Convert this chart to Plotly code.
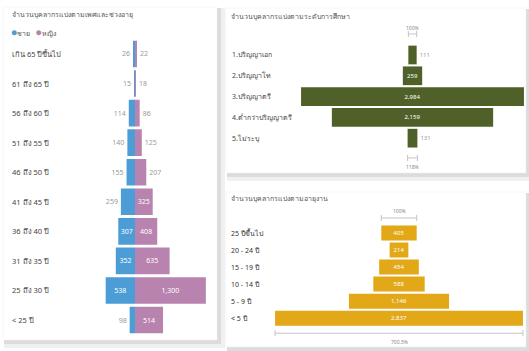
import plotly.graph_objects as go

W, H = 529, 351

# ---------------- data ----------------
age_groups = ["เกิน 65 ปีขึ้นไป", "61 ถึง 65 ปี", "56 ถึง 60 ปี", "51 ถึง 55 ปี", "46 ถึง 50 ปี",
              "41 ถึง 45 ปี", "36 ถึง 40 ปี", "31 ถึง 35 ปี", "25 ถึง 30 ปี", "< 25 ปี"]
male = [26, 15, 114, 140, 155, 259, 307, 352, 538, 98]
female = [22, 18, 86, 125, 207, 325, 408, 635, 1300, 514]

edu_levels = ["1.ปริญญาเอก", "2.ปริญญาโท", "3.ปริญญาตรี", "4.ต่ำกว่าปริญญาตรี", "5.ไม่ระบุ"]
edu_counts = [111, 259, 2984, 2159, 131]

tenure_groups = ["25 ปีขึ้นไป", "20 - 24 ปี", "15 - 19 ปี", "10 - 14 ปี", "5 - 9 ปี", "< 5 ปี"]
tenure_counts = [405, 214, 454, 588, 1146, 2837]

title_left = "จำนวนบุคลากรแบ่งตามเพศและช่วงอายุ"
title_edu = "จำนวนบุคลากรแบ่งตามระดับการศึกษา"
title_tenure = "จำนวนบุคลากรแบ่งตามอายุงาน"
legend_names = ["ชาย", "หญิง"]

# ---------------- style ----------------
FONT = "Noto Sans, Lato, sans-serif"
C_MALE = "#4C9DD6"
C_FEMALE = "#B883AE"
C_EDU = "#4F6128"
C_TEN = "#E2A817"
C_TXT = "#555555"
C_OUT = "#9a9a9a"


def fx(p):
    return p / W


def fy(p):
    return 1 - p / H


fig = go.Figure()


def tpos(vals, thr):
    return ["inside" if v >= thr else "outside" for v in vals]


common = dict(orientation="h", insidetextanchor="middle", textangle=0, constraintext="none",
              cliponaxis=False, showlegend=False, hoverinfo="skip")

# ---------- left: population pyramid ----------
fig.add_trace(go.Bar(
    y=age_groups, x=[-v for v in male], width=0.9,
    marker=dict(color=C_MALE, line=dict(width=0)),
    text=[f"{v:,}" for v in male], textposition=tpos(male, 300),
    insidetextfont=dict(color="white", size=7, family=FONT),
    outsidetextfont=dict(color=C_OUT, size=7, family=FONT),
    xaxis="x", yaxis="y", **common))
fig.add_trace(go.Bar(
    y=age_groups, x=female, width=0.9,
    marker=dict(color=C_FEMALE, line=dict(width=0)),
    text=[f"{v:,}" for v in female], textposition=tpos(female, 300),
    insidetextfont=dict(color="white", size=7, family=FONT),
    outsidetextfont=dict(color=C_OUT, size=7, family=FONT),
    xaxis="x", yaxis="y", **common))

# ---------- top right: education funnel ----------
fig.add_trace(go.Bar(
    y=list(range(len(edu_levels))), x=edu_counts, base=[-v / 2 for v in edu_counts],
    width=0.9, marker=dict(color=C_EDU, line=dict(width=0)),
    text=[f"{v:,}" for v in edu_counts], textposition=tpos(edu_counts, 200),
    insidetextfont=dict(color="white", size=6, family=FONT),
    outsidetextfont=dict(color=C_OUT, size=6, family=FONT),
    xaxis="x2", yaxis="y2", **common))

# ---------- bottom right: tenure funnel ----------
fig.add_trace(go.Bar(
    y=list(range(len(tenure_groups))), x=tenure_counts, base=[-v / 2 for v in tenure_counts],
    width=0.88, marker=dict(color=C_TEN, line=dict(width=0)),
    text=[f"{v:,}" for v in tenure_counts], textposition=tpos(tenure_counts, 200),
    insidetextfont=dict(color="white", size=6, family=FONT),
    outsidetextfont=dict(color=C_OUT, size=6, family=FONT),
    xaxis="x3", yaxis="y3", **common))

hidden = dict(showgrid=False, zeroline=False, showticklabels=False, ticks="", showline=False, fixedrange=True)

fig.update_layout(
    xaxis=dict(domain=[fx(60), fx(210)], range=[-1376, 1376], **hidden),
    yaxis=dict(domain=[fy(334.8), fy(39.2)], range=[9.5, -0.5], type="category",
               categoryorder="array", categoryarray=age_groups, **hidden),
    xaxis2=dict(domain=[fx(300), fx(525)], range=[-1506, 1506], anchor="y2", **hidden),
    yaxis2=dict(domain=[fy(170), fy(24)], range=[5.53, -1.49], anchor="x2", **hidden),
    xaxis3=dict(domain=[fx(273), fx(525)], range=[-1442, 1442], anchor="y3", **hidden),
    yaxis3=dict(domain=[fy(346), fy(205)], range=[6.63, -1.64], anchor="x3", **hidden),
)

# ---------- cards (shadows + white) ----------
shapes = []
cards = [(3, 7, 217, 340), (226, 8, 526, 173), (226, 192, 526, 347)]
for (x0, y0, x1, y1) in cards:
    shapes.append(dict(type="rect", xref="paper", yref="paper", layer="below",
                       x0=fx(x0 + 1), x1=fx(x1 + 8), y0=fy(y1 + 8), y1=fy(y0 + 1),
                       fillcolor="#f0f0f0", line=dict(width=0)))
    shapes.append(dict(type="rect", xref="paper", yref="paper", layer="below",
                       x0=fx(x0 + 1), x1=fx(x1 + 4), y0=fy(y1 + 4), y1=fy(y0 + 1),
                       fillcolor="#dcdcdc", line=dict(width=0)))
    shapes.append(dict(type="rect", xref="paper", yref="paper", layer="below",
                       x0=fx(x0), x1=fx(x1), y0=fy(y1), y1=fy(y0),
                       fillcolor="white", line=dict(color="#eeeeee", width=0.5)))


def bracket(xa, ya, half, yc, tick):
    col = "#c4c4c4"
    return [
        dict(type="line", xref=xa, yref=ya, x0=-half, x1=half, y0=yc, y1=yc, line=dict(color=col, width=1)),
        dict(type="line", xref=xa, yref=ya, x0=-half, x1=-half, y0=yc - tick, y1=yc + tick, line=dict(color=col, width=1)),
        dict(type="line", xref=xa, yref=ya, x0=half, x1=half, y0=yc - tick, y1=yc + tick, line=dict(color=col, width=1)),
    ]


shapes += bracket("x2", "y2", edu_counts[0] / 2, -1.01, 0.15)
shapes += bracket("x2", "y2", edu_counts[-1] / 2, 4.95, 0.15)
shapes += bracket("x3", "y3", tenure_counts[0] / 2, -0.88, 0.18)
shapes += bracket("x3", "y3", tenure_counts[-1] / 2, 5.88, 0.18)

annotations = []
for t, x, y in [(title_left, 10, 15), (title_edu, 229, 16), (title_tenure, 229, 198)]:
    annotations.append(dict(text=t, xref="paper", yref="paper", x=fx(x), y=fy(y),
                            xanchor="left", yanchor="middle", showarrow=False,
                            font=dict(size=7, color=C_TXT, family=FONT)))
annotations.append(dict(
    text=(f'<span style="color:{C_MALE};font-size:10px">●</span>{legend_names[0]}   '
          f'<span style="color:{C_FEMALE};font-size:10px">●</span>{legend_names[1]}'),
    xref="paper", yref="paper", x=fx(9), y=fy(32), xanchor="left", yanchor="middle",
    showarrow=False, font=dict(size=7, color=C_TXT, family=FONT)))
for c in age_groups:
    annotations.append(dict(text=c, xref="paper", yref="y", x=fx(10), y=c, xanchor="left",
                            yanchor="middle", showarrow=False,
                            font=dict(size=7.5, color="#444444", family=FONT)))
for i, c in enumerate(edu_levels):
    annotations.append(dict(text=c, xref="paper", yref="y2", x=fx(230), y=i, xanchor="left",
                            yanchor="middle", showarrow=False,
                            font=dict(size=7, color="#444444", family=FONT)))
for i, c in enumerate(tenure_groups):
    annotations.append(dict(text=c, xref="paper", yref="y3", x=fx(229), y=i, xanchor="left",
                            yanchor="middle", showarrow=False,
                            font=dict(size=7, color="#333333", family=FONT)))


def pct(a, b):
    r = b / a * 100
    s = f"{r:.1f}".rstrip("0").rstrip(".")
    return s + "%"


for txt, xa, ya, yv in [("100%", "x2", "y2", -1.3), (pct(edu_counts[0], edu_counts[-1]), "x2", "y2", 5.38),
                        ("100%", "x3", "y3", -1.29), (pct(tenure_counts[0], tenure_counts[-1]), "x3", "y3", 6.38)]:
    annotations.append(dict(text=txt, xref=xa, yref=ya, x=0, y=yv, xanchor="center", yanchor="middle",
                            showarrow=False, font=dict(size=5, color="#888888", family=FONT)))

fig.update_layout(
    width=W, height=H, margin=dict(l=0, r=0, t=0, b=0),
    paper_bgcolor="white", plot_bgcolor="rgba(0,0,0,0)",
    barmode="overlay", shapes=shapes, annotations=annotations,
    font=dict(family=FONT),
)

fig.write_html("out.html")
